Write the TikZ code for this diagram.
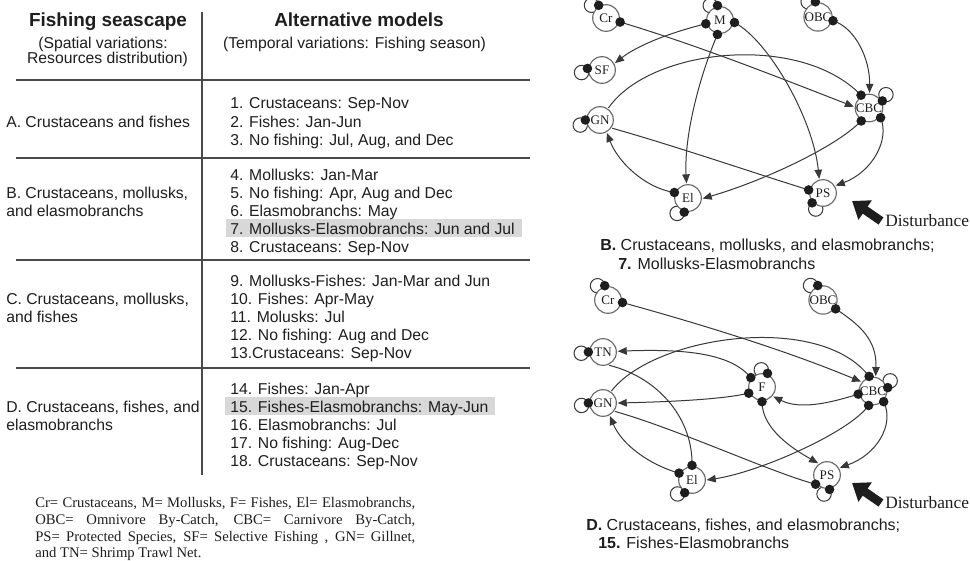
\documentclass[tikz,border=0pt]{standalone}
\usepackage{fontspec}
\setmainfont{Liberation Sans}
\newfontfamily\tms{Liberation Serif}
\usetikzlibrary{arrows.meta}
\pgfdeclarelayer{bg}
\pgfdeclarelayer{fg}
\pgfsetlayers{bg,main,fg}
\definecolor{ink}{HTML}{1E1E1E}
\definecolor{edgec}{HTML}{383838}
\definecolor{nodec}{HTML}{6A6A6A}
\definecolor{rulec}{HTML}{4A4A4A}
\definecolor{hlc}{HTML}{D8D8D8}
\newcommand\ndot[1]{\begin{pgfonlayer}{fg}\fill[ink] (#1) circle (3.6pt);\end{pgfonlayer}}
\newcommand\sloop[3]{\begin{pgfonlayer}{bg}\draw[lnk] (#1.#2) ++(#3:5.4pt) circle (5.4pt);\end{pgfonlayer}\ndot{#1.#2}}
\tikzset{
  spn/.style={circle, draw=nodec, line width=0.85pt, fill=white, minimum size=20pt, inner sep=0pt, outer sep=1pt, font=\tms\fontsize{9.8}{10}\selectfont, text=ink},
  lnk/.style={draw=edgec, line width=0.75pt},
  posarr/.style={lnk, -{Triangle[length=6.8pt,width=5.6pt]}},
  tx/.style={anchor=base west, inner sep=0pt, font=\fontsize{11.8}{13}\selectfont, text=ink},
  txc/.style={tx, anchor=base},
  hd/.style={anchor=base, inner sep=0pt, font=\fontsize{14.2}{15}\selectfont\bfseries, text=ink},
  captx/.style={anchor=base west, inner sep=0pt, font=\fontsize{12}{13}\selectfont, text=ink},
  distx/.style={anchor=base west, inner sep=0pt, font=\tms\fontsize{13}{14}\selectfont, text=ink},
  bigarrow/.style={draw=ink, line width=6.5pt, -{Triangle[length=12pt,width=17pt]}},
  hrule/.style={draw=rulec, line width=1.4pt}
}
\begin{document}
\begin{tikzpicture}[x=0.75pt,y=-0.75pt]
\useasboundingbox (0,0) rectangle (970,560);
\begin{pgfonlayer}{bg}
\fill[white] (0,0) rectangle (970,560);
\end{pgfonlayer}

% ---------------- table ----------------
\fill[hlc] (226,219) rectangle (522,237);
\fill[hlc] (225,397) rectangle (495,415);
\coordinate (va) at (202,12); \coordinate (vb) at (202,475);
\draw[hrule] (va) -- (vb);
\foreach \yy/\nm in {80/ha,158/hb,260/hc,368/hd}{
  \coordinate (\nm1) at (16,\yy); \coordinate (\nm2) at (530,\yy);
  \draw[hrule] (\nm1) -- (\nm2);
}
\node[hd] (h1) at (108,26.5) {Fishing seascape};
\node[txc] (h2) at (103,49) {(Spatial variations:};
\node[txc] (h3) at (107.5,64) {Resources distribution)};
\node[hd] (h4) at (359,26.5) {Alternative models};
\node[txc] (h5) at (354.5,49) {(Temporal variations: Fishing season)};

\node[tx] (sa) at (6,127.5) {A. Crustaceans and fishes};
\node[tx] (sb1) at (6,198.5) {B. Crustaceans, mollusks,};
\node[tx] (sb2) at (6,216.5) {and elasmobranchs};
\node[tx] (sc1) at (6,304.5) {C. Crustaceans, mollusks,};
\node[tx] (sc2) at (6,322.5) {and fishes};
\node[tx] (sd1) at (6,412.5) {D. Crustaceans, fishes, and};
\node[tx] (sd2) at (6,430.5) {elasmobranchs};

\node[tx] (m1) at (230,108.5) {1. Crustaceans: Sep-Nov};
\node[tx] (m2) at (230,127.5) {2. Fishes: Jan-Jun};
\node[tx] (m3) at (230,145.5) {3. No fishing: Jul, Aug, and Dec};
\node[tx] (m4) at (230,180.5) {4. Mollusks: Jan-Mar};
\node[tx] (m5) at (230,198.5) {5. No fishing: Apr, Aug and Dec};
\node[tx] (m6) at (230,216.5) {6. Elasmobranchs: May};
\node[tx] (m7) at (230,234) {7. Mollusks-Elasmobranchs: Jun and Jul};
\node[tx] (m8) at (230,252.5) {8. Crustaceans: Sep-Nov};
\node[tx] (m9) at (230,286.5) {9. Mollusks-Fishes: Jan-Mar and Jun};
\node[tx] (m10) at (230,304.5) {10. Fishes: Apr-May};
\node[tx] (m11) at (230,322.5) {11. Molusks: Jul};
\node[tx] (m12) at (230,340.5) {12. No fishing: Aug and Dec};
\node[tx] (m13) at (230,358.5) {13.Crustaceans: Sep-Nov};
\node[tx] (m14) at (230,394.5) {14. Fishes: Jan-Apr};
\node[tx] (m15) at (230,412.5) {15. Fishes-Elasmobranchs: May-Jun};
\node[tx] (m16) at (230,430.5) {16. Elasmobranchs: Jul};
\node[tx] (m17) at (230,448.5) {17. No fishing: Aug-Dec};
\node[tx] (m18) at (230,466.5) {18. Crustaceans: Sep-Nov};

\node[anchor=base west, inner sep=0pt, font=\tms\fontsize{11}{12.6}\selectfont, text=ink] (legend) at (35,507.5)
 {\parbox[t]{285pt}{\tolerance=10000 Cr= Crustaceans, M= Mollusks, F= Fishes, El= Elasmobranchs,\linebreak OBC= Omnivore By-Catch, CBC= Carnivore By-Catch,\linebreak PS= Protected Species, SF= Selective Fishing , GN= Gillnet,\linebreak and TN= Shrimp Trawl Net.}};

% ---------------- graph B ----------------
\node[spn] (bCr) at (606,18) {Cr};
\node[spn] (bM) at (720,20) {M};
\node[spn] (bOBC) at (818,17) {OBC};
\node[spn] (bSF) at (602,70) {SF};
\node[spn] (bGN) at (600,120) {GN};
\node[spn] (bCBC) at (869,108) {CBC};
\node[spn] (bEl) at (688,198) {El};
\node[spn] (bPS) at (823,193) {PS};
\begin{pgfonlayer}{bg}
\draw[posarr] (bCr.-16) .. controls (700,46) and (780,78) .. (bCBC.175);
\draw[posarr] (bM.195) .. controls (672,32) and (638,45) .. (bSF.28);
\draw[posarr] (bM.-100) .. controls (700,75) and (684,135) .. (bEl.96);
\draw[posarr] (bM.-10) .. controls (768,40) and (813,118) .. (bPS.105);
\draw[posarr] (bOBC.-14) .. controls (856,28) and (870,60) .. (bCBC.88);
\draw[lnk] (bGN.55) .. controls (650,48) and (800,32) .. (bCBC.122);
\draw[lnk] (bGN.-34) .. controls (675,146) and (745,170) .. (bPS.168);
\draw[posarr] (bEl.158) .. controls (645,188) and (618,162) .. (bGN.-62);
\draw[posarr] (bCBC.-121) .. controls (835,148) and (760,182) .. (bEl.-2);
\draw[posarr] (bCBC.-40) .. controls (890,140) and (872,172) .. (bPS.30);
\end{pgfonlayer}
\ndot{bCr.-16}\ndot{bM.195}\ndot{bM.-100}\ndot{bM.-10}\ndot{bOBC.-14}
\ndot{bCBC.122}\ndot{bPS.168}\ndot{bEl.158}\ndot{bCBC.-121}\ndot{bCBC.-40}
\sloop{bCr}{120}{180}\sloop{bM}{100}{180}\sloop{bOBC}{100}{180}
\sloop{bSF}{174}{215}\sloop{bGN}{180}{225}\sloop{bCBC}{28}{60}
\sloop{bEl}{-105}{190}\sloop{bPS}{-138}{-60}
\coordinate (bdt) at (881,221); \coordinate (bdh) at (852,201);
\draw[bigarrow] (bdt) -- (bdh);
\node[distx] (bdist) at (885,226.5) {Disturbance};
\node[captx] (bcap1) at (600,250.5) {\textbf{B.} Crustaceans, mollusks, and elasmobranchs;};
\node[captx] (bcap2) at (618,269.5) {\textbf{7.} Mollusks-Elasmobranchs};

% ---------------- graph D ----------------
\node[spn] (dCr) at (608,300) {Cr};
\node[spn] (dOBC) at (823,300) {OBC};
\node[spn] (dTN) at (603,352) {TN};
\node[spn] (dF) at (762,387) {F};
\node[spn] (dCBC) at (873,391) {CBC};
\node[spn] (dGN) at (603,403) {GN};
\node[spn] (dEl) at (692,480) {El};
\node[spn] (dPS) at (827,475) {PS};
\begin{pgfonlayer}{bg}
\draw[posarr] (dCr.-10) .. controls (700,324) and (785,350) .. (dCBC.142);
\draw[posarr] (dOBC.-35) .. controls (860,325) and (877,340) .. (dCBC.80);
\draw[posarr] (dF.140) .. controls (730,352) and (680,349) .. (dTN.3);
\draw[lnk] (dTN.-65) .. controls (660,378) and (693,420) .. (dEl.90);
\draw[lnk] (dGN.55) .. controls (655,335) and (820,312) .. (dCBC.105);
\draw[posarr] (dF.-155) .. controls (720,400) and (660,402) .. (dGN.0);
\draw[lnk] (dGN.-35) .. controls (680,430) and (770,472) .. (dPS.-141);
\draw[posarr] (dEl.152) .. controls (650,465) and (622,445) .. (dGN.-62);
\draw[posarr] (dCBC.-107) .. controls (850,432) and (760,472) .. (dEl.0);
\draw[posarr] (dCBC.-45) .. controls (895,425) and (876,455) .. (dPS.30);
\draw[posarr] (dF.-90) .. controls (762,430) and (795,450) .. (dPS.127);
\draw[posarr] (dCBC.-168) .. controls (830,403) and (800,410) .. (dF.-40);
\end{pgfonlayer}
\ndot{dCr.-10}\ndot{dOBC.-35}\ndot{dF.140}\ndot{dEl.90}\ndot{dCBC.105}\ndot{dF.-155}
\ndot{dPS.-141}\ndot{dEl.152}\ndot{dCBC.-107}\ndot{dCBC.-45}\ndot{dF.-90}\ndot{dCBC.-168}
\sloop{dCr}{103}{180}\sloop{dOBC}{110}{180}\sloop{dTN}{180}{190}
\sloop{dGN}{180}{200}\sloop{dF}{68}{150}\sloop{dCBC}{13}{70}
\sloop{dEl}{-120}{190}\sloop{dPS}{-80}{220}
\coordinate (ddt) at (881,503); \coordinate (ddh) at (852,483);
\draw[bigarrow] (ddt) -- (ddh);
\node[distx] (ddist) at (885,508) {Disturbance};
\node[captx] (dcap1) at (586,530.5) {\textbf{D.} Crustaceans, fishes, and elasmobranchs;};
\node[captx] (dcap2) at (598,548.5) {\textbf{15.} Fishes-Elasmobranchs};
\end{tikzpicture}
\end{document}
